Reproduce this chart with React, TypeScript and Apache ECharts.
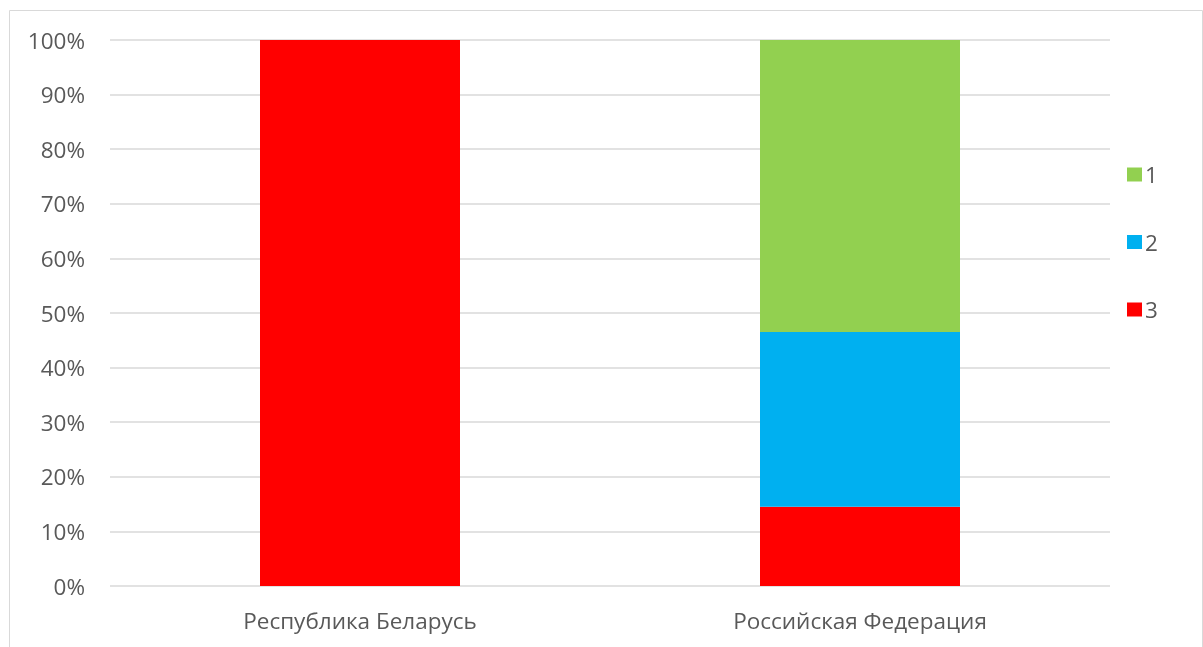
import React, { useEffect, useRef } from "react";
import * as echarts from "echarts";

const categories = ["Республика Беларусь", "Российская Федерация"];
const seriesNames = ["1", "2", "3"];
const values1 = [0, 53.5];
const values2 = [0, 32];
const values3 = [100, 14.5];
const colors: Record<string, string> = { "1": "#92d050", "2": "#00b0f0", "3": "#ff0000" };

export default function App() {
  const ref = useRef<HTMLDivElement>(null);
  useEffect(() => {
    if (!ref.current) return;
    const chart = echarts.init(ref.current, null, { renderer: "svg" });
    const font = "'Open Sans', 'Noto Sans', sans-serif";
    const dataMap: Record<string, number[]> = { "1": values1, "2": values2, "3": values3 };
    chart.setOption({
      animation: false,
      textStyle: { fontFamily: font },
      graphic: [
        {
          type: "rect",
          shape: { x: 9.5, y: 10.5, width: 1193, height: 700 },
          style: { fill: "none", stroke: "#d9d9d9", lineWidth: 1 },
          silent: true,
        },
      ],
      grid: { left: 110, right: 93, top: 40, bottom: 61, containLabel: false },
      legend: {
        orient: "vertical",
        left: 1122,
        top: 158,
        data: seriesNames,
        icon: "rect",
        itemWidth: 15,
        itemHeight: 14,
        itemGap: 44.5,
        itemStyle: { borderWidth: 0 },
        textStyle: { fontSize: 22.5, color: "#595959", fontFamily: font, padding: [0, 0, 0, -2] },
      },
      xAxis: {
        type: "category",
        data: categories,
        axisLine: { show: false },
        axisTick: { show: false },
        axisLabel: { fontSize: 22.5, color: "#595959", margin: 23, fontFamily: font },
      },
      yAxis: {
        type: "value",
        min: 0,
        max: 100,
        interval: 10,
        axisLine: { show: false },
        axisTick: { show: false },
        splitLine: { lineStyle: { color: "#d9d9d9", width: 1.5 } },
        axisLabel: { formatter: "{value}%", fontSize: 22.5, color: "#595959", margin: 25, fontFamily: font },
      },
      series: ["3", "2", "1"].map((n) => ({
        name: n,
        type: "bar",
        stack: "total",
        barWidth: "40%",
        data: dataMap[n],
        itemStyle: { color: colors[n] },
      })),
    });
    return () => chart.dispose();
  }, []);
  return <div ref={ref} style={{ position: "fixed", left: 0, top: 0, width: 1203, height: 647 }} />;
}
